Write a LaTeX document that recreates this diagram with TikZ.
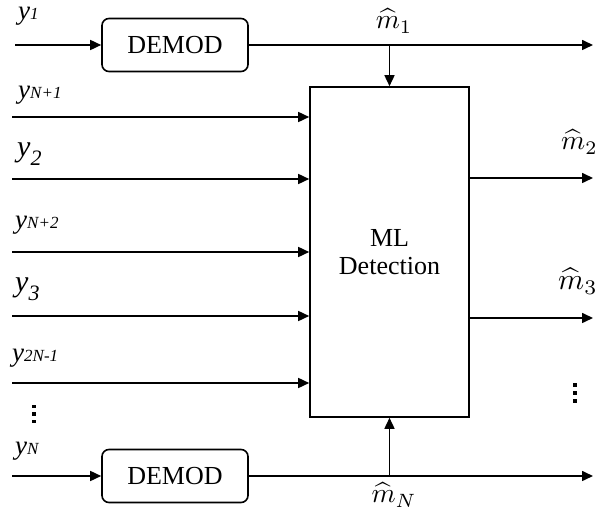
\documentclass[tikz,border=0pt]{standalone}
\usepackage{fontspec}
\usepackage{graphicx}
\setmainfont{Liberation Serif}
\usetikzlibrary{arrows.meta}
\newcommand\ysub[3]{\textit{y}\raisebox{#3}{\fontsize{#2}{#2}\selectfont\textit{#1}}}
\newcommand\mhat[1]{\scalebox{2.75}{$\widehat{m}_{#1}$}}
\begin{document}
\begin{tikzpicture}[x=1pt,y=-1pt,
  wire/.style={line width=1.6pt,-{Triangle[length=11pt,width=10pt]}},
  demod/.style={draw,line width=1.6pt,rounded corners=7pt,minimum width=146pt,minimum height=53pt,inner sep=0pt,font=\fontsize{26}{30}\selectfont},
  mlbox/.style={draw,line width=1.6pt,minimum width=159pt,minimum height=330pt,inner sep=0pt,align=center,font=\fontsize{26}{28}\selectfont},
  lbl/.style={anchor=base west,inner sep=0pt,font=\fontsize{27}{30}\selectfont},
  mlbl/.style={anchor=base,inner sep=0pt},
  dot/.style={fill=black}]
\useasboundingbox (0,0) rectangle (595,518);
% boxes
\node[demod] (d1) at (175,45) {DEMOD};
\node[demod] (dN) at (175,476) {DEMOD};
\node[mlbox] (ml) at (389.5,252) {ML\\Detection};
% input labels
\node[lbl] (ly1) at (18,20) {\ysub{1}{17}{0pt}};
\node[lbl] (lyN1) at (18,99) {\ysub{N+1}{17}{0pt}};
\node[lbl,font=\fontsize{30}{32}\selectfont] (ly2) at (17,157) {\ysub{2}{22}{-9pt}};
\node[lbl] (lyN2) at (15,229) {\ysub{N+2}{17}{0pt}};
\node[lbl,font=\fontsize{30}{32}\selectfont] (ly3) at (15,292) {\ysub{3}{22}{-9pt}};
\node[lbl] (ly2N) at (12,362) {\ysub{2N-1}{17}{0pt}};
\node[lbl] (lyN) at (15,455) {\ysub{N}{17}{0pt}};
% inputs
\coordinate (i1) at (15,45);
\coordinate (iN) at (12,476);
\coordinate (a1) at (12,117);
\coordinate (a2) at (12,179);
\coordinate (a3) at (12,252);
\coordinate (a4) at (12,316);
\coordinate (a5) at (12,383);
\draw[wire] (i1) -- (d1.west);
\draw[wire] (iN) -- (dN.west);
\foreach \c in {a1,a2,a3,a4,a5}{\draw[wire] (\c) -- (\c -| ml.west);}
% outputs
\coordinate (o1) at (593,45);
\coordinate (oN) at (593,476);
\coordinate (t1) at (389.5,45);
\coordinate (tN) at (389.5,476);
\coordinate (o2) at (593,178);
\coordinate (o3) at (593,318);
\draw[wire] (d1.east) -- (o1);
\draw[wire] (dN.east) -- (oN);
\draw[wire] (t1) -- (ml.north);
\draw[wire] (tN) -- (ml.south);
\draw[wire] (o2 -| ml.east) -- (o2);
\draw[wire] (o3 -| ml.east) -- (o3);
% output labels
\node[mlbl] (m1) at (394,29) {\mhat{1}};
\node[mlbl] (mN) at (394,503) {\mhat{N}};
\node[mlbl,anchor=base west] (m2) at (561,150) {\mhat{2}};
\node[mlbl,anchor=base west] (m3) at (558,290) {\scalebox{1.08}{\mhat{3}}};
% dots
\fill[dot] (32,405) rectangle (36,408.5);
\fill[dot] (32,412.5) rectangle (36,416);
\fill[dot] (32,420) rectangle (36,423.5);
\fill[dot] (573,383) rectangle (577,387);
\fill[dot] (573,391) rectangle (577,395);
\fill[dot] (573,399) rectangle (577,403);
\end{tikzpicture}
\end{document}
